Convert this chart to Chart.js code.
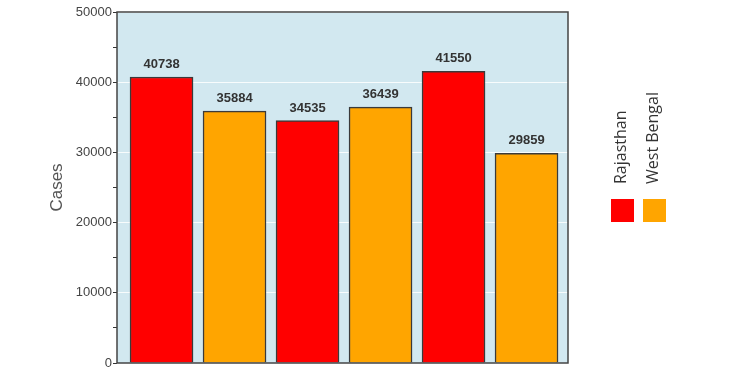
<!DOCTYPE html>
<html>
<head>
<meta charset="utf-8">
<script src="https://cdn.jsdelivr.net/npm/chart.js@4"></script>
<style>
  body { margin: 0; background: #fff; }
</style>
</head>
<body>
<canvas id="casesChart" width="750" height="375"></canvas>
<script>
// data (bars alternate Rajasthan / West Bengal)
const states = ['Rajasthan', 'West Bengal'];
const stateColors = ['#ff0000', '#ffa500'];
const rajasthanCases = [40738, 34535, 41550];
const westBengalCases = [35884, 36439, 29859];
const yTicks = [0, 10000, 20000, 30000, 40000, 50000];

// each state's bars sit at every other slot: R, WB, R, WB, R, WB
function toPoints(values, start) {
    return values.map((v, i) => ({ x: start + i * 2, y: v }));
}

const plotBg = {
    id: 'plotBg',
    beforeDraw(chart) {
        const a = chart.chartArea;
        const c = chart.ctx;
        c.save();
        c.fillStyle = 'rgb(210, 232, 240)';
        c.fillRect(a.left, a.top, a.right - a.left, a.bottom - a.top);
        c.restore();
    },
    afterDraw(chart) {
        const a = chart.chartArea;
        const c = chart.ctx;
        c.save();
        c.strokeStyle = '#444';
        c.lineWidth = 1.5;
        c.strokeRect(a.left, a.top, a.right - a.left, a.bottom - a.top);
        c.restore();
    }
};

// value above every bar
const barLabels = {
    id: 'barLabels',
    afterDatasetsDraw(chart) {
        const c = chart.ctx;
        c.save();
        c.font = 'bold 13px "Liberation Sans", Arial, sans-serif';
        c.fillStyle = '#333';
        c.textAlign = 'center';
        c.textBaseline = 'alphabetic';
        chart.data.datasets.forEach((ds, di) => {
            chart.getDatasetMeta(di).data.forEach((bar, i) => {
                c.fillText(String(ds.data[i].y), bar.x, bar.y - 9);
            });
        });
        c.restore();
    }
};

// legend on the right: rotated names with colour squares below
const sideLegend = {
    id: 'sideLegend',
    afterDraw(chart) {
        const c = chart.ctx;
        const a = chart.chartArea;
        c.save();
        chart.data.datasets.forEach((ds, i) => {
            const x0 = a.right + 43 + i * 32;
            c.fillStyle = ds.backgroundColor;
            c.fillRect(x0, 199, 23, 23);
            c.save();
            c.translate(x0 + 14.5, 184);
            c.rotate(-Math.PI / 2);
            c.font = '16px "Open Sans", sans-serif';
            c.fillStyle = '#333';
            c.textAlign = 'left';
            c.textBaseline = 'alphabetic';
            c.fillText(ds.label, 0, 0);
            c.restore();
        });
        c.restore();
    }
};

const ctx = document.getElementById('casesChart').getContext('2d');
new Chart(ctx, {
    type: 'bar',
    data: {
        datasets: [
            {
                label: states[0],
                data: toPoints(rajasthanCases, 0),
                backgroundColor: stateColors[0],
                borderColor: '#3a3a3a',
                borderWidth: 1.5
            },
            {
                label: states[1],
                data: toPoints(westBengalCases, 1),
                backgroundColor: stateColors[1],
                borderColor: '#3a3a3a',
                borderWidth: 1.5
            }
        ]
    },
    options: {
        responsive: false,
        animation: false,
        layout: { padding: { left: 43, top: 12, right: 182, bottom: 12 } },
        datasets: { bar: { grouped: false, barThickness: 63 } },
        scales: {
            x: {
                type: 'linear',
                display: false,
                offset: false,
                min: -0.61,
                max: 5.568
            },
            y: {
                min: 0,
                max: 50000,
                afterFit(scale) { scale.width = 74; },
                afterBuildTicks(scale) {
                    // major labels plus the small unlabelled marks halfway
                    const t = [];
                    yTicks.forEach((v, i) => {
                        t.push({ value: v });
                        if (i < yTicks.length - 1) t.push({ value: (v + yTicks[i + 1]) / 2 });
                    });
                    scale.ticks = t;
                },
                border: { display: false },
                grid: {
                    color: (c) => yTicks.includes(c.tick.value) ? 'rgba(255,255,255,0.85)' : 'rgba(0,0,0,0)',
                    tickColor: '#333',
                    tickLength: 4,
                    lineWidth: 1
                },
                ticks: {
                    padding: 1,
                    color: '#444',
                    font: { family: '"Liberation Sans", Arial, sans-serif', size: 13 },
                    callback: (v) => yTicks.includes(v) ? String(v) : ''
                },
                title: {
                    display: true,
                    text: 'Cases',
                    color: '#555',
                    font: { family: '"Liberation Sans", Arial, sans-serif', size: 17 }
                }
            }
        },
        plugins: {
            legend: { display: false },
            tooltip: { enabled: false }
        }
    },
    plugins: [plotBg, barLabels, sideLegend]
});
</script>
</body>
</html>
